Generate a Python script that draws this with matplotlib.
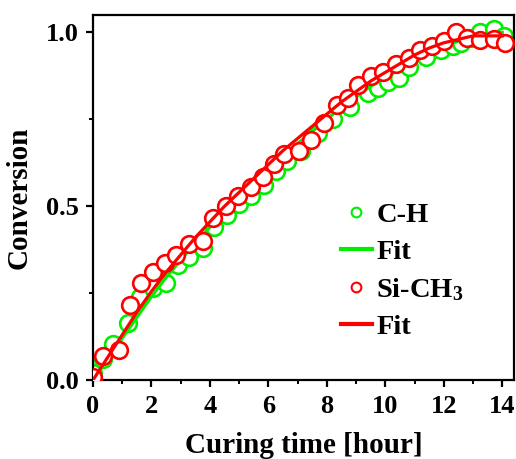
import matplotlib
matplotlib.use("Agg")
import matplotlib.pyplot as plt
from matplotlib.ticker import MultipleLocator, FormatStrFormatter

# Measured conversion vs curing time
t_ch = [0.0, 0.35, 0.68, 1.2, 1.6, 2.05, 2.5, 2.9, 3.3, 3.75, 4.15, 4.6, 5.0, 5.4,
        5.85, 6.25, 6.65, 7.1, 7.7, 8.2, 8.8, 9.4, 9.75, 10.1, 10.45, 10.8, 11.4,
        11.9, 12.3, 12.6, 12.95, 13.25, 13.7, 14.05]
conv_ch = [0.02, 0.06, 0.105, 0.165, 0.24, 0.265, 0.28, 0.33, 0.355, 0.38, 0.44,
           0.475, 0.505, 0.53, 0.56, 0.6, 0.63, 0.66, 0.71, 0.75, 0.785, 0.825,
           0.84, 0.856, 0.87, 0.9, 0.93, 0.95, 0.96, 0.97, 0.985, 1.0, 1.01, 0.99]

t_sich3 = [0.0, 0.35, 0.9, 1.27, 1.64, 2.05, 2.47, 2.84, 3.3, 3.77, 4.1, 4.55,
           4.95, 5.4, 5.8, 6.2, 6.55, 7.05, 7.45, 7.9, 8.36, 8.73, 9.07, 9.5,
           9.93, 10.35, 10.8, 11.2, 11.6, 12.0, 12.4, 12.8, 13.25, 13.7, 14.1]
conv_sich3 = [0.01, 0.07, 0.086, 0.215, 0.28, 0.31, 0.336, 0.36, 0.39, 0.40,
              0.465, 0.50, 0.53, 0.555, 0.585, 0.62, 0.65, 0.66, 0.69, 0.74,
              0.79, 0.81, 0.85, 0.875, 0.885, 0.91, 0.925, 0.95, 0.96, 0.975,
              1.0, 0.985, 0.977, 0.98, 0.97]

# Fitted curves
t_fit = [0, 0.5, 1, 1.5, 2, 2.5, 3, 3.5, 4, 4.5, 5, 5.5, 6, 6.5, 7, 7.5, 8, 8.5,
         9, 9.5, 10, 10.5, 11, 11.5, 12, 12.5, 13, 13.5, 14]
fit_ch = [0.0, 0.06, 0.12, 0.18, 0.24, 0.295, 0.345, 0.395, 0.44, 0.485, 0.525,
          0.565, 0.605, 0.645, 0.68, 0.715, 0.75, 0.785, 0.815, 0.845, 0.87,
          0.895, 0.92, 0.94, 0.96, 0.975, 0.99, 0.997, 1.0]
fit_sich3 = [0.0, 0.065, 0.13, 0.195, 0.255, 0.31, 0.36, 0.41, 0.455, 0.5, 0.54,
             0.58, 0.62, 0.66, 0.695, 0.73, 0.765, 0.8, 0.83, 0.86, 0.885,
             0.91, 0.935, 0.955, 0.97, 0.98, 0.99, 0.99, 0.99]

labels = ["C-H", "Fit", "Si-CH$_3$", "Fit"]

plt.rcParams["font.family"] = ["Liberation Serif", "DejaVu Serif"]
plt.rcParams["mathtext.fontset"] = "custom"
plt.rcParams["mathtext.rm"] = "Liberation Serif:bold"
plt.rcParams["mathtext.it"] = "Liberation Serif:bold"
plt.rcParams["mathtext.bf"] = "Liberation Serif:bold"

fig = plt.figure(figsize=(5.16, 4.59), dpi=100)
ax = fig.add_axes([93 / 516, 79 / 459, 421 / 516, 365 / 459])

green = "#00ee00"
red = "#ff0000"
ms = 12
mew = 1.9

ax.plot(t_ch, conv_ch, "o", ms=ms, mfc="white", mec=green, mew=mew, zorder=2)
ax.plot(t_fit, fit_ch, "-", color=green, lw=2.3, zorder=3)
ax.plot(t_sich3, conv_sich3, "o", ms=ms, mfc="white", mec=red, mew=mew, zorder=4)
ax.plot(t_fit, fit_sich3, "-", color=red, lw=2.3, zorder=5)

# Legend proxies with smaller markers
h1, = ax.plot([], [], "o", ms=7, mfc="white", mec=green, mew=1.5)
h2, = ax.plot([], [], "-", color=green, lw=3)
h3, = ax.plot([], [], "o", ms=7, mfc="white", mec=red, mew=1.5)
h4, = ax.plot([], [], "-", color=red, lw=3)
leg = ax.legend([h1, h2, h3, h4], labels, loc="upper left",
                bbox_to_anchor=(0.561, 0.518), frameon=False,
                prop={"weight": "bold", "size": 20.5}, handlelength=1.1,
                handletextpad=0.15, labelspacing=0.39, borderaxespad=0)

ax.set_xlim(0, 14.4)
ax.set_ylim(0, 1.05)
ax.xaxis.set_major_locator(MultipleLocator(2))
ax.xaxis.set_minor_locator(MultipleLocator(1))
ax.yaxis.set_major_locator(MultipleLocator(0.5))
ax.yaxis.set_minor_locator(MultipleLocator(0.25))
ax.yaxis.set_major_formatter(FormatStrFormatter("%.1f"))

for s in ax.spines.values():
    s.set_linewidth(1.6)
ax.tick_params(which="major", direction="out", length=5, width=1.6,
               labelsize=19)
ax.tick_params(which="minor", direction="out", length=3, width=1.4)
ax.tick_params(axis="x", which="major", pad=6)
ax.tick_params(axis="y", which="major", pad=5)
for lab in ax.get_xticklabels() + ax.get_yticklabels():
    lab.set_fontweight("bold")

ax.set_xlabel("Curing time [hour]", fontsize=21, fontweight="bold", labelpad=10)
ax.set_ylabel("Conversion", fontsize=21, fontweight="bold", labelpad=10)

fig.savefig("out.png", dpi=100)
